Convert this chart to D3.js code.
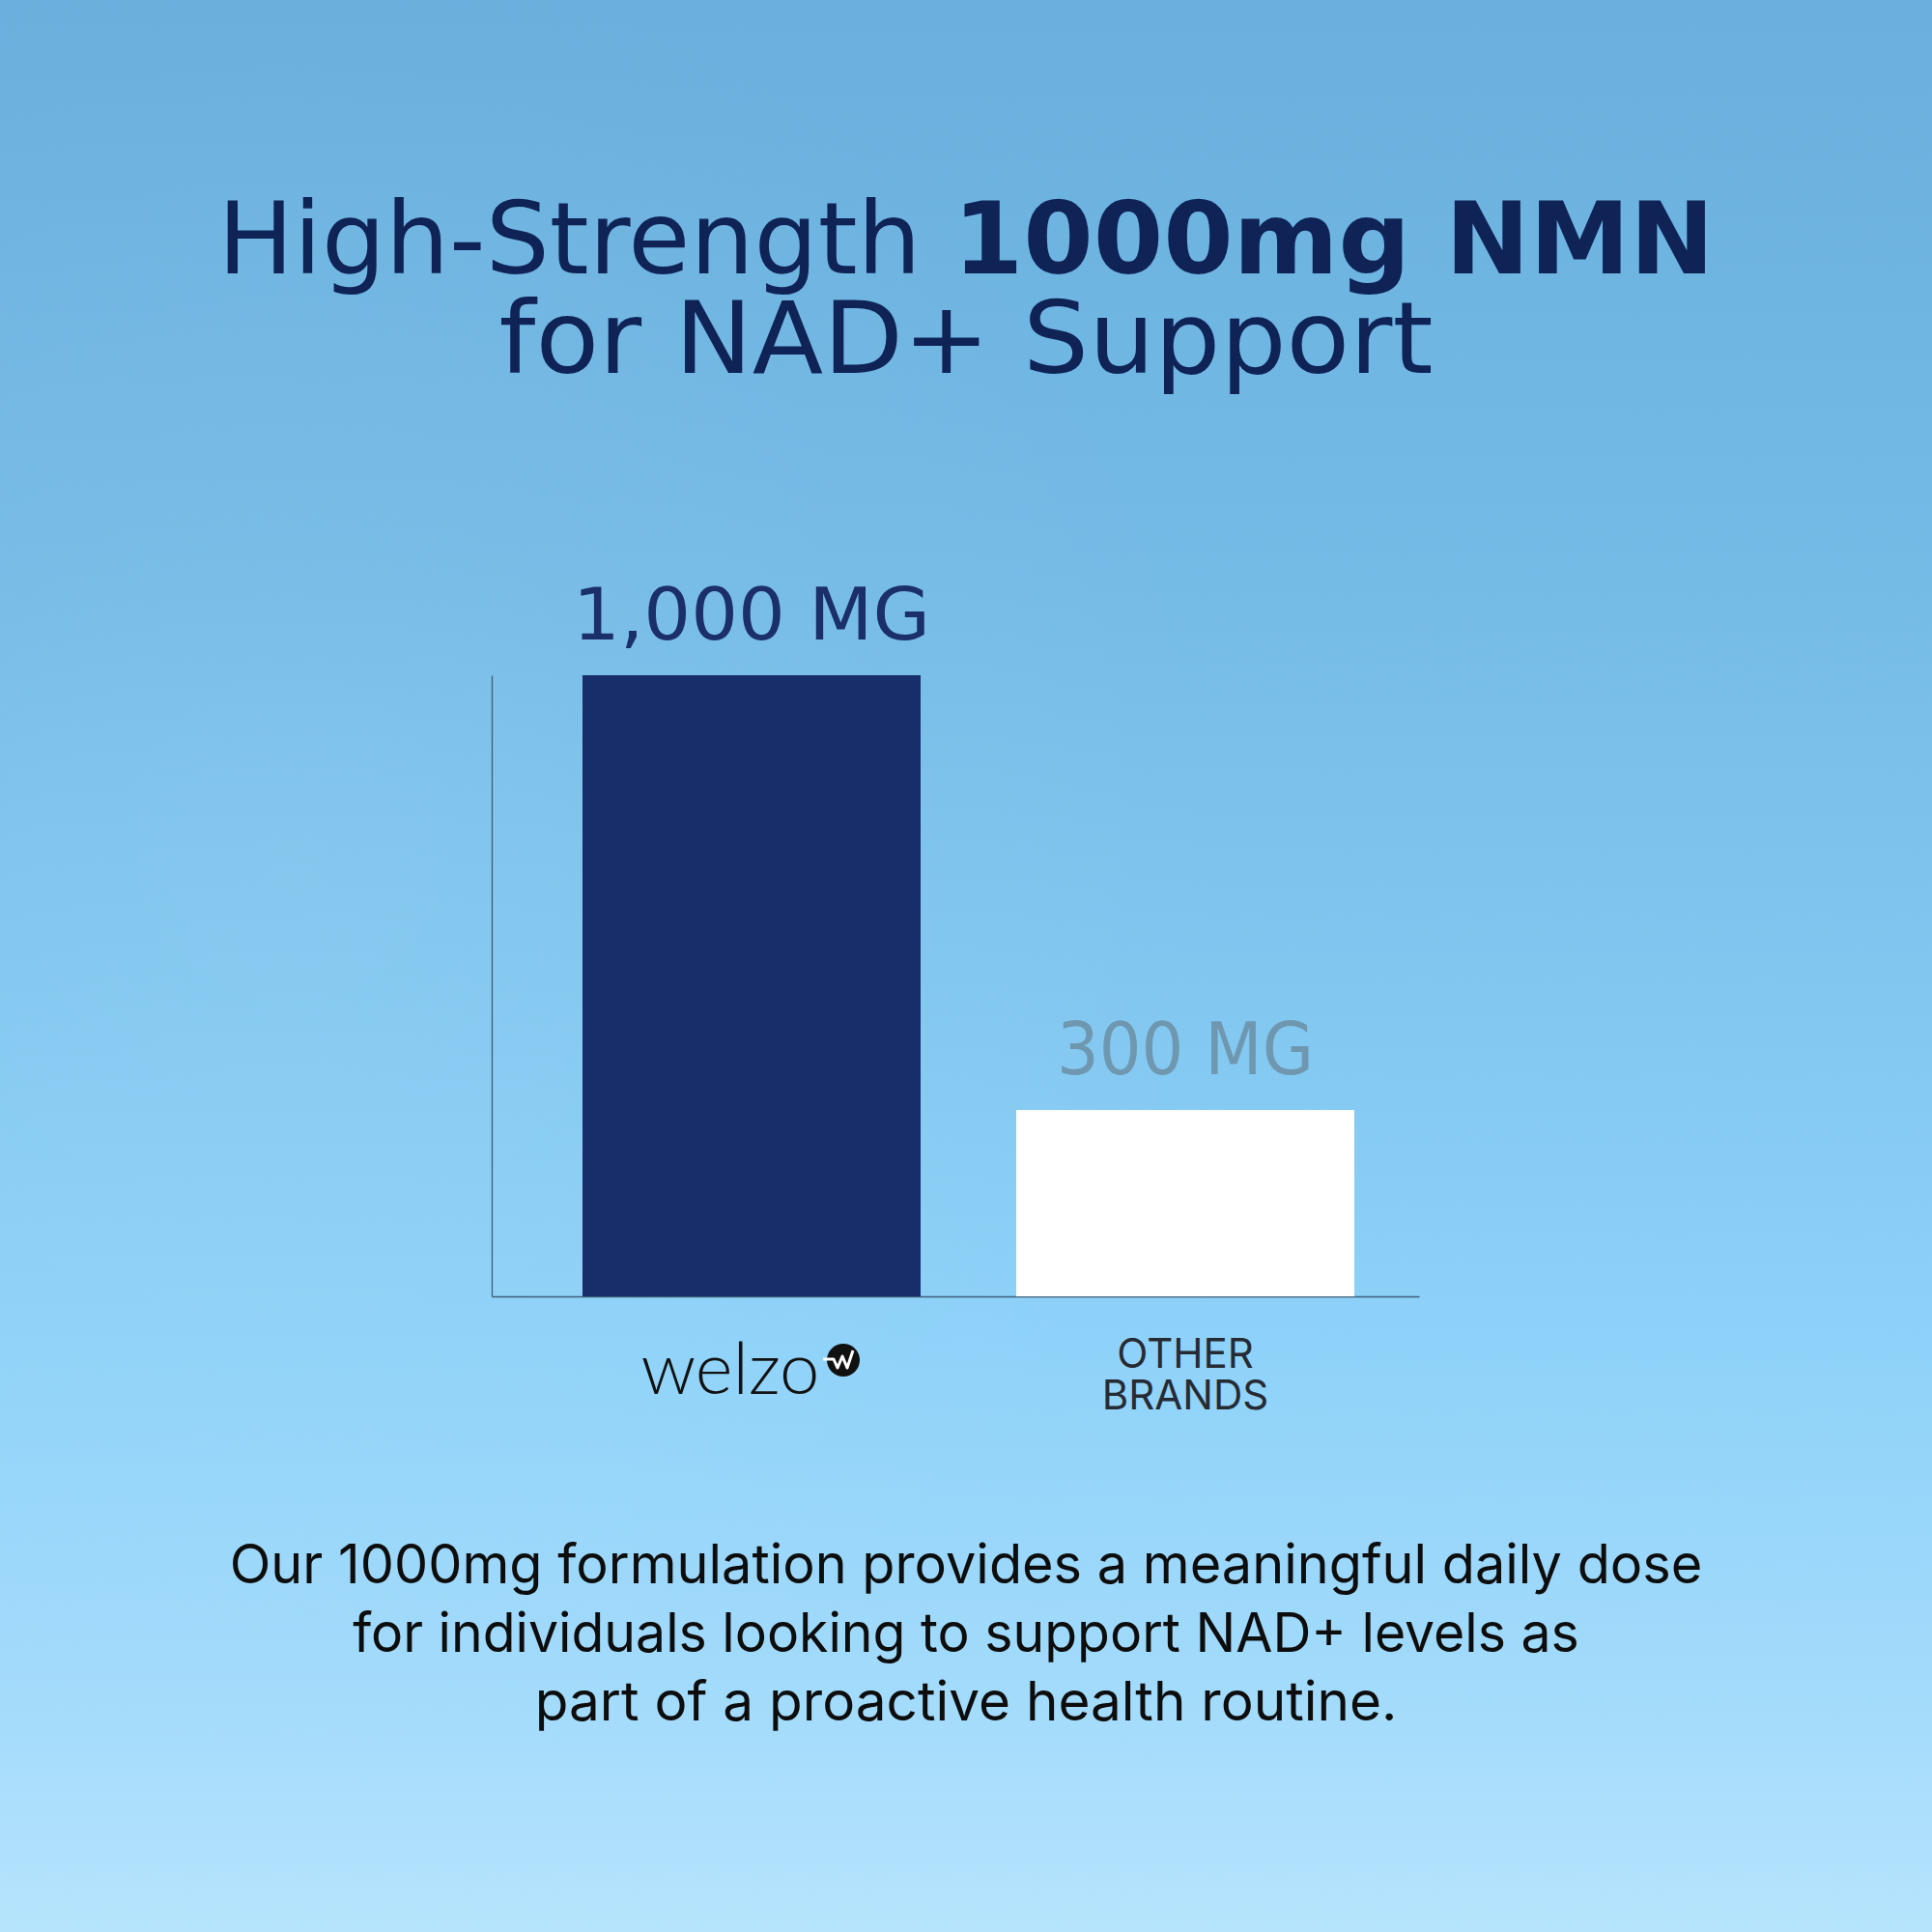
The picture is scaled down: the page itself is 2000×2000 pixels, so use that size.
<!DOCTYPE html>
<html>
<head>
<meta charset="utf-8">
<script src="https://cdn.jsdelivr.net/npm/d3@7"></script>
<style>
html,body{margin:0;padding:0;background:#fff;}
svg{display:block;}
</style>
</head>
<body>
<svg id="chart" width="2000" height="2000"></svg>
<script>
// ---- data ----
const categories = ["welzo", "OTHER BRANDS"];
const values = [1000, 300];
const valueLabels = ["1,000 MG", "300 MG"];
const titleLine1Regular = "High-Strength ";
const titleLine1Bold = "1000mg NMN";
const titleLine2 = "for NAD+ Support";
const otherLabelLines = ["OTHER", "BRANDS"];
const paragraphLines = [
  "Our 1000mg formulation provides a meaningful daily dose",
  "for individuals looking to support NAD+ levels as",
  "part of a proactive health routine."
];

const svg = d3.select("#chart");
const W = 2000, H = 2000;

// background sky gradient
const defs = svg.append("defs");
const g1 = defs.append("linearGradient").attr("id","sky").attr("x1",0).attr("y1",0).attr("x2",0).attr("y2",1);
[[0,"#6aafdd"],[0.3,"#74bbe6"],[0.5,"#80c6ef"],[0.7,"#8fd2f9"],[0.88,"#a3dbfb"],[1,"#b6e4fd"]]
  .forEach(([o,c]) => g1.append("stop").attr("offset",o).attr("stop-color",c));
svg.append("rect").attr("width",W).attr("height",H).attr("fill","url(#sky)");
const g2 = defs.append("radialGradient").attr("id","haze").attr("cx",0.15).attr("cy",0.45).attr("r",0.5);
g2.append("stop").attr("offset",0).attr("stop-color","#ffffff").attr("stop-opacity",0.06);
g2.append("stop").attr("offset",1).attr("stop-color","#ffffff").attr("stop-opacity",0);
svg.append("rect").attr("width",W).attr("height",H).attr("fill","url(#haze)");

// helper: fit text horizontally to target span
function fitX(sel, cx, targetWidth){
  const bb = sel.node().getBBox();
  const sx = targetWidth / bb.width;
  sel.attr("transform", `translate(${cx},0) scale(${sx},1) translate(${-cx},0)`);
}

// title
const navy = "#0f2357";
const t1 = svg.append("text").attr("x",1000).attr("y",283).attr("text-anchor","middle")
  .attr("font-family","DejaVu Sans").attr("font-size",104).attr("fill",navy);
t1.append("tspan").attr("font-weight",400).text(titleLine1Regular);
t1.append("tspan").attr("font-weight",700).text(titleLine1Bold);
fitX(t1, 998, 1549);
const t2 = svg.append("text").attr("x",1000).attr("y",386).attr("text-anchor","middle")
  .attr("font-family","DejaVu Sans").attr("font-size",104).attr("fill",navy).text(titleLine2);
fitX(t2, 998, 967);

// scales
const x = d3.scaleBand().domain(categories).range([603, 1402]).paddingInner(0.2205).paddingOuter(0);
const y = d3.scaleLinear().domain([0, 1000]).range([1342, 699]);

// axes frame
const axisColor = "#3f5f7a";
const yAxis = d3.axisLeft(y).tickValues([]).tickSizeOuter(0);
const gy = svg.append("g").attr("transform","translate(509,0)").call(yAxis);
gy.select(".domain").attr("stroke",axisColor).attr("stroke-width",1.3);
const xa = d3.scaleLinear().domain([0,1]).range([509,1469]);
const gx = svg.append("g").attr("transform",`translate(0,${y(0)})`).call(d3.axisBottom(xa).tickValues([]).tickSizeOuter(0));
gx.select(".domain").attr("stroke",axisColor).attr("stroke-width",1.5);

// bars
const barColors = ["#172e6b", "#ffffff"];
svg.selectAll("rect.bar").data(categories).join("rect").attr("class","bar")
  .attr("x", d => x(d)).attr("width", x.bandwidth())
  .attr("y", (d,i) => y(values[i])).attr("height", (d,i) => y(0) - y(values[i]))
  .attr("fill", (d,i) => barColors[i]);

// value labels
const labelColors = ["#1b2f6a", "#6f98b0"];
const labelWidths = [370, 266];
svg.selectAll("text.val").data(categories).join("text").attr("class","val")
  .attr("x", d => x(d) + x.bandwidth()/2)
  .attr("y", (d,i) => y(values[i]) - 37)
  .attr("text-anchor","middle").attr("font-family","DejaVu Sans").attr("font-weight",400)
  .attr("font-size",74).attr("fill",(d,i)=>labelColors[i])
  .text((d,i)=>valueLabels[i])
  .each(function(d,i){ fitX(d3.select(this), x(d)+x.bandwidth()/2, labelWidths[i]); });

// category label 1: welzo logotype
const cx1 = x(categories[0]) + x.bandwidth()/2;
const wt = svg.append("text").attr("x", cx1 - 22).attr("y",1443).attr("text-anchor","middle")
  .attr("font-family","Lato").attr("font-weight",300).attr("font-size",74).attr("fill","#111")
  .text(categories[0]);
fitX(wt, cx1 - 22, 185);
const lx = cx1 + 95, ly = 1408;
svg.append("circle").attr("cx",lx).attr("cy",ly).attr("r",17).attr("fill","#111");
svg.append("path").attr("d",`M${lx-21},${ly-1} L${lx-10},${ly-1} L${lx-6},${ly+8} L${lx-1},${ly-4} L${lx+4},${ly+8} L${lx+10},${ly-10}`)
  .attr("fill","none").attr("stroke","#fff").attr("stroke-width",3).attr("stroke-linejoin","round");

// category label 2 (two lines in one text element)
const cx2 = x(categories[1]) + x.bandwidth()/2;
const ct = svg.append("text").attr("x", cx2).attr("y",1416).attr("text-anchor","middle")
  .attr("font-family","Inter").attr("font-weight",400).attr("font-size",42).attr("fill","#262b33");
ct.selectAll("tspan").data(otherLabelLines).join("tspan")
  .attr("x", cx2).attr("dy",(d,i)=> i === 0 ? 0 : 43).text(d=>d);

// paragraph
const pWidths = [1525, 1270, 893];
svg.selectAll("text.para").data(paragraphLines).join("text").attr("class","para")
  .attr("x",1000).attr("y",(d,i)=>1639 + i*71).attr("text-anchor","middle")
  .attr("font-family","Inter").attr("font-weight",400).attr("font-size",56).attr("fill","#0d0d0d")
  .text(d=>d)
  .each(function(d,i){ fitX(d3.select(this), 1000, pWidths[i]); });
</script>
</body>
</html>
